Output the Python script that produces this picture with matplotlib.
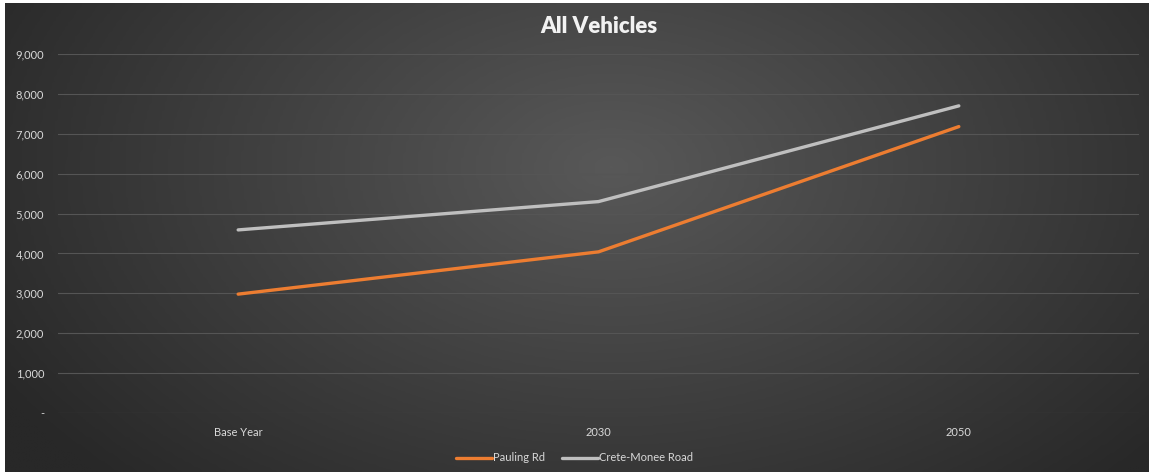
import numpy as np
import matplotlib.pyplot as plt
from matplotlib.colors import LinearSegmentedColormap

plt.rcParams["font.family"] = ["Lato", "DejaVu Sans"]

# Daten
categories = ["Base Year", "2030", "2050"]
pauling_rd = [2980, 4040, 7180]
crete_monee = [4590, 5300, 7700]
y_ticks = [0, 1000, 2000, 3000, 4000, 5000, 6000, 7000, 8000, 9000]
y_tick_labels = ["-", "1,000", "2,000", "3,000", "4,000", "5,000",
                 "6,000", "7,000", "8,000", "9,000"]

W, H = 1149, 472
fig = plt.figure(figsize=(W / 100, H / 100), dpi=100)
fig.patch.set_facecolor("white")

# Hintergrund mit radialem Verlauf
bg = fig.add_axes([5 / W, 0, 1 - 5 / W, 1 - 3 / H])
bg.set_axis_off()
gx, gy = np.meshgrid(np.linspace(0, 1, 400), np.linspace(0, 1, 200))
r = np.sqrt(((gx - 0.53) / 0.62) ** 2 + ((gy - 0.35) / 0.95) ** 2)
r = np.clip(r, 0, 1)
cmap = LinearSegmentedColormap.from_list("bg", ["#585858", "#404040", "#282828"])
bg.imshow(r, cmap=cmap, aspect="auto", extent=[0, 1, 0, 1], origin="upper",
          interpolation="bilinear")
bg.set_xlim(0, 1)
bg.set_ylim(0, 1)

# Diagramm
ax = fig.add_axes([58 / W, 1 - 413 / H, (1139 - 58) / W, (413 - 54) / H])
ax.set_facecolor("none")
x = np.arange(len(categories))
ax.plot(x, pauling_rd, color="#ed7d31", linewidth=2.4, solid_capstyle="round",
        label="Pauling Rd", zorder=3)
ax.plot(x, crete_monee, color="#bfbfbf", linewidth=2.4, solid_capstyle="round",
        label="Crete-Monee Road", zorder=3)

ax.set_xlim(-0.5, 2.5)
ax.set_ylim(0, 9000)
ax.set_yticks(y_ticks)
ax.set_yticklabels(y_tick_labels)
ax.set_xticks(x)
ax.set_xticklabels(categories)
ax.grid(axis="y", color="#555555", linewidth=0.8)
ax.set_axisbelow(True)
for s in ax.spines.values():
    s.set_visible(False)
ax.tick_params(axis="both", length=0, colors="#d9d9d9", labelsize=8)
ax.tick_params(axis="y", pad=10)
ax.tick_params(axis="x", pad=10)

ax.set_title("All Vehicles", color="#f2f2f2", fontsize=16, fontweight="heavy",
             pad=15)

leg = fig.legend(loc="lower center", bbox_to_anchor=(0.5, -0.003), ncol=2,
                 frameon=False, fontsize=8, handlelength=3.2,
                 handletextpad=0.1, columnspacing=1.6)
for t in leg.get_texts():
    t.set_color("#d9d9d9")

fig.savefig("out.png", dpi=100, facecolor=fig.get_facecolor())
